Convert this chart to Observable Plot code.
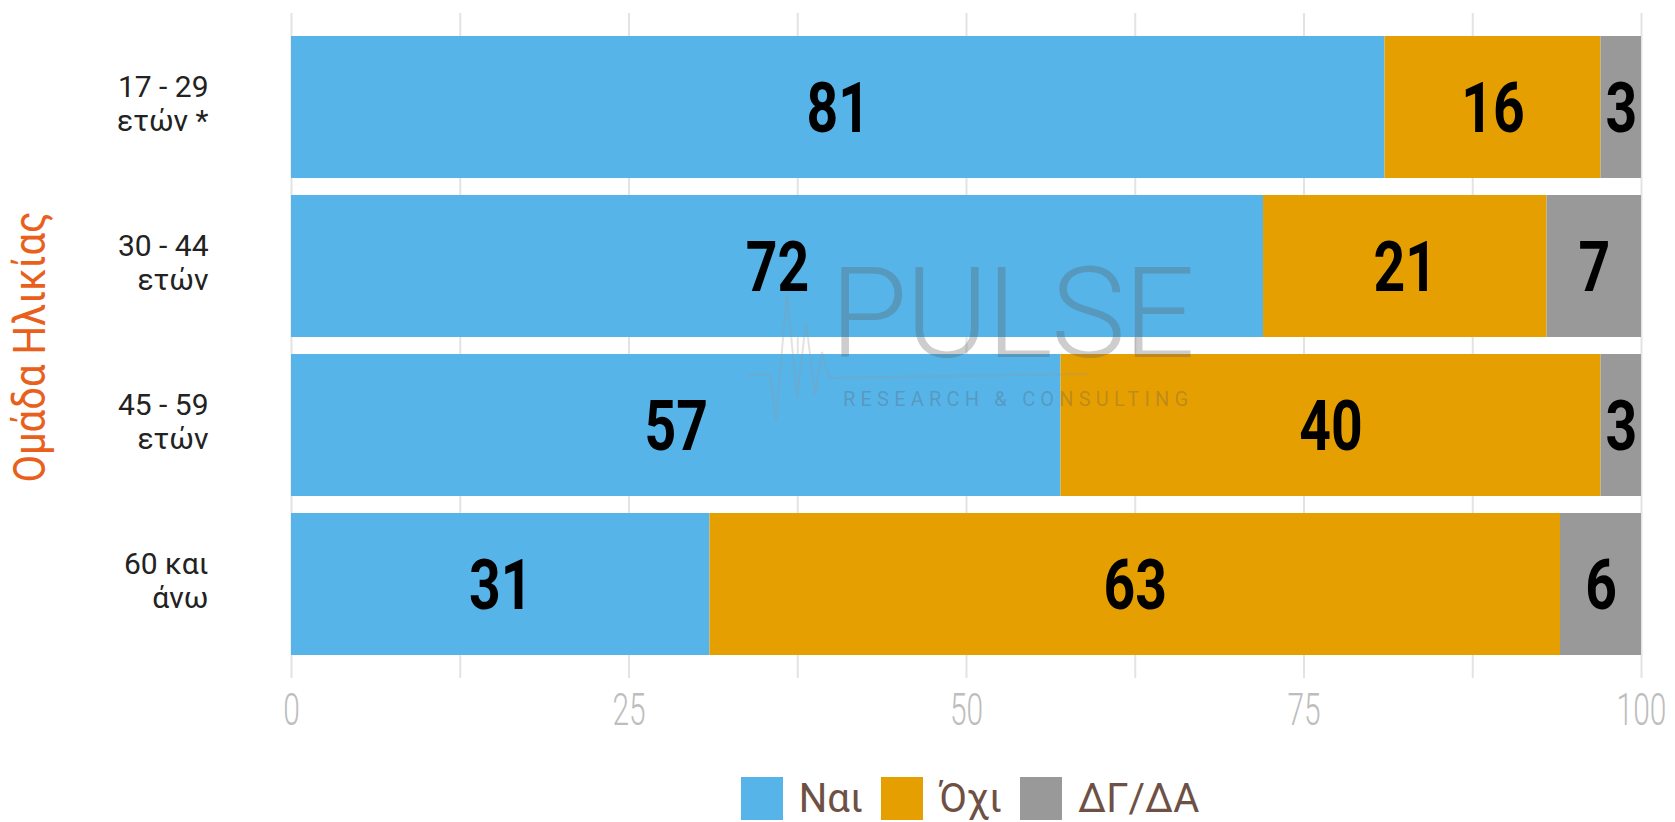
<!DOCTYPE html>
<html>
<head>
<meta charset="utf-8">
<script src="https://cdn.jsdelivr.net/npm/d3@7"></script>
<script src="https://cdn.jsdelivr.net/npm/@observablehq/plot@0.6"></script>
<style>
  html, body { margin: 0; padding: 0; background: #fff; }
  #wrap { position: relative; width: 1675px; height: 822px; overflow: hidden; }
  #legend { position: absolute; left: 295px; width: 1350px; top: 777px; height: 43px; display: flex; justify-content: center; align-items: center; font-family: Roboto, sans-serif; }
  .item { display: flex; align-items: center; margin: 0 9px; height: 43px; }
  .sw { width: 42px; height: 43px; margin-right: 16px; }
  .lab { font-size: 40px; line-height: 40px; color: #6e5045; display: inline-block; }
  #wm { position: absolute; left: 0; top: 0; width: 1675px; height: 822px; pointer-events: none; }
  #wmtext { position: absolute; left: 830px; top: 251px; color: rgba(90,90,90,0.3); font-family: "Roboto", sans-serif; }
  #wmtext .big { font-size: 126px; font-weight: 300; letter-spacing: -2px; line-height: 126px; }
  #wmtext .small { font-size: 20px; letter-spacing: 5.2px; margin-top: 10px; margin-left: 13px; }
</style>
</head>
<body>
<div id="wrap">
  <div id="chart"></div>
  <div id="wm">
    <svg width="1675" height="822" style="position:absolute;left:0;top:0">
      <path d="M748,375 L770,375 L776,420 L787,292 L797,398 L806,322 L815,395 L822,352 L829,378 L1087,374" fill="none" stroke="rgba(150,150,150,0.28)" stroke-width="2"/>
    </svg>
    <div id="wmtext"><div class="big">PULSE</div><div class="small">RESEARCH &amp; CONSULTING</div></div>
  </div>
  <div id="legend"></div>
</div>
<script>
const groups = ["17 - 29\nετών *", "30 - 44\nετών", "45 - 59\nετών", "60 και\nάνω"];
const responses = ["Ναι", "Όχι", "ΔΓ/ΔΑ"];
const colors = ["#56B4E9", "#E69F00", "#999999"];
const yes = [81, 72, 57, 31];
const no = [16, 21, 40, 63];
const dk = [3, 7, 3, 6];
const xTicks = [0, 25, 50, 75, 100];
const xGrid = [0, 12.5, 25, 37.5, 50, 62.5, 75, 87.5, 100];
const yTitle = "Ομάδα Ηλικίας";

const series = [yes, no, dk];
const data = [];
groups.forEach((g, i) => {
  responses.forEach((r, j) => data.push({group: g, response: r, value: series[j][i]}));
});

const chart = Plot.plot({
  width: 1675,
  height: 745,
  marginLeft: 291,
  marginRight: 34,
  marginTop: 13,
  marginBottom: 67,
  style: {fontFamily: "Roboto, sans-serif", background: "#fff"},
  x: {domain: [0, 100]},
  y: {domain: groups, paddingInner: 0.105, paddingOuter: 0.14},
  color: {domain: responses, range: colors},
  marks: [
    Plot.ruleX(xGrid, {stroke: "#e3e3e3", strokeWidth: 2}),
    Plot.barX(data, Plot.stackX({x: "value", y: "group", fill: "response", z: "response", order: responses})),
    Plot.text(data, Plot.stackX({x: "value", y: "group", z: "response", text: d => String(d.value), order: responses,
      fill: "#000", fontSize: 70, fontWeight: "bold", dy: 2, ariaDescription: "barlabels"})),
    Plot.axisX({ticks: xTicks, tickSize: 0, tickPadding: 15, fontSize: 44, fontWeight: 300, fill: "#bdbdbd", label: null}),
    Plot.axisY({tickSize: 0, tickPadding: 83, fontSize: 30, fill: "#222", lineHeight: 1.12, dy: -4, label: null}),
    Plot.text([yTitle], {frameAnchor: "left", textAnchor: "middle", dx: -261, dy: 1, rotate: -90, fontSize: 44, fill: "#E8601C", ariaDescription: "ytitle"})
  ]
});
document.getElementById("chart").appendChild(chart);

// condensed look: horizontal compression of glyphs around their anchor
function squeeze(sel, s) {
  d3.select(chart).selectAll(sel).each(function() {
    const t = this.getAttribute("transform") || "";
    this.setAttribute("transform", t + ` scale(${s},1)`);
  });
}
squeeze('g[aria-description="barlabels"] text', 0.79);
squeeze('g[aria-label="x-axis tick label"] text', 0.68);
squeeze('g[aria-description="ytitle"] text', 0.91);

const legend = document.getElementById("legend");
responses.forEach((r, j) => {
  const it = document.createElement("div");
  it.className = "item";
  const sw = document.createElement("div");
  sw.className = "sw";
  sw.style.background = colors[j];
  const lb = document.createElement("span");
  lb.className = "lab";
  lb.textContent = r;
  it.appendChild(sw); it.appendChild(lb);
  legend.appendChild(it);
});
</script>
</body>
</html>
